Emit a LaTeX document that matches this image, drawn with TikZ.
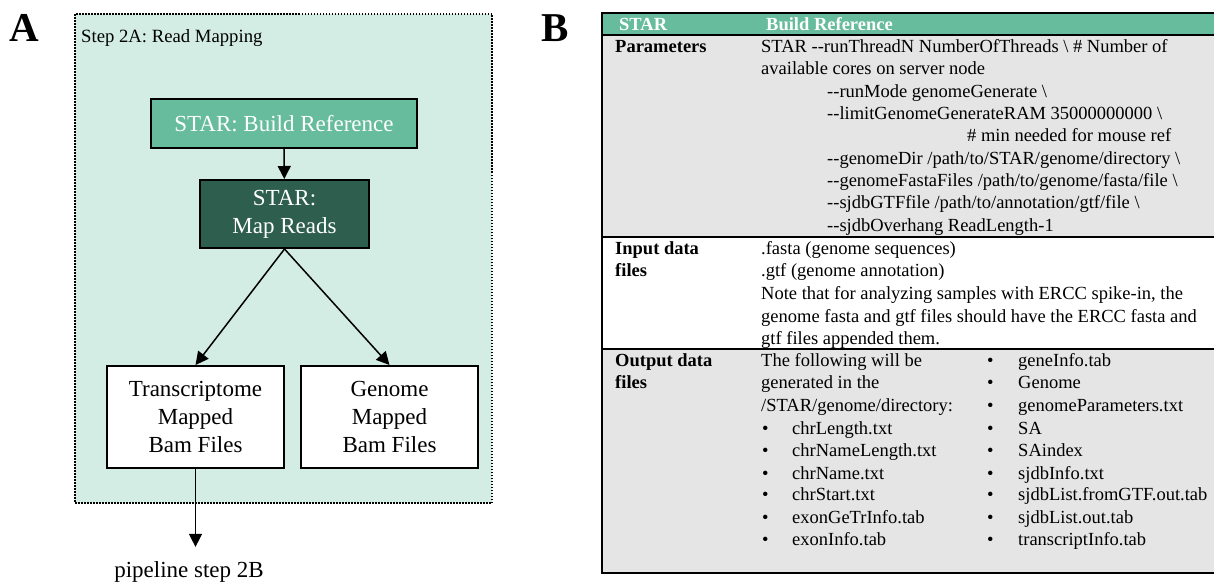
\documentclass[tikz,border=0pt]{standalone}
\usepackage{fontspec}
\setmainfont{Liberation Serif}
\usepackage{xcolor}
\usepackage{tikz}
\usetikzlibrary{positioning, arrows.meta, calc}

\definecolor{vertclair}{HTML}{66BC9C}
\definecolor{vertfonce}{HTML}{2E5E4E}
\definecolor{menthe}{HTML}{D3EDE5}
\definecolor{grisfond}{HTML}{E5E5E5}

\newcommand{\tiret}{\mbox{-}\mbox{-}}
\newcommand{\bs}{\textbackslash}
\newcommand{\corps}{\fontsize{18.5}{22}\selectfont}

\tikzset{
    boite/.style={draw, line width=2pt, align=center, inner sep=0pt, font=\fontsize{23}{28}\selectfont},
    fleche/.style={line width=1.5pt, -{Triangle[length=13pt, width=13pt]}},
    texte/.style={anchor=base west, inner sep=0pt, font=\corps},
    gras/.style={texte, font=\corps\bfseries},
    entete/.style={gras, text=white},
    lettre/.style={anchor=base west, inner sep=0pt, font=\fontsize{41}{41}\selectfont\bfseries},
    trait/.style={line width=2pt}
}

\begin{document}
\begin{tikzpicture}[x=1pt, y=-1pt]
    \useasboundingbox (0,0) rectangle (1214,581);
    \clip (0,0) rectangle (1214,581);

    % Panneau A
    \node[lettre] (lettreA) at (9,41) {A};
    \draw[line width=1.5pt, dash pattern=on 1.5pt off 1.5pt, fill=menthe] (75,14) rectangle (492,503);
    \node[texte, font=\fontsize{18.7}{22}\selectfont] (titreA) at (81,42) {Step 2A: Read Mapping};

    \node[boite, fill=vertclair, text=white, minimum width=266pt, minimum height=49pt] (build) at (284,123.5) {STAR: Build Reference};
    \node[boite, fill=vertfonce, text=white, minimum width=169pt, minimum height=68pt] (map) at (284.5,214) {STAR:\\Map Reads};
    \node[boite, fill=white, minimum width=177pt, minimum height=102pt] (trans) at (195.5,417) {Transcriptome\\Mapped\\Bam Files};
    \node[boite, fill=white, minimum width=177pt, minimum height=102pt] (geno) at (389.5,417) {Genome\\Mapped\\Bam Files};
    \node[font=\fontsize{23}{28}\selectfont, inner xsep=0pt, inner ysep=14pt] (pipe) at (189,571.5) {pipeline step 2B};

    \draw[fleche] (build) -- (map);
    \draw[fleche] (map.south) -- (trans.north);
    \draw[fleche] (map.south) -- (geno.north);
    \draw[fleche] (trans) -- (trans.south |- pipe.north);

    % Panneau B : tableau
    \node[lettre] (lettreB) at (541,41) {B};
    \fill[vertclair] (602,13) rectangle (1222,35);
    \fill[grisfond] (602,35) rectangle (1222,237);
    \fill[white] (602,237) rectangle (1222,349);
    \fill[grisfond] (602,349) rectangle (1222,573);
    \draw[trait] (1222,13) -- (602,13) -- (602,573) -- (1222,573);
    \draw[trait] (602,35) -- (1222,35);
    \draw[trait] (602,237) -- (1222,237);
    \draw[trait] (602,349) -- (1222,349);

    \node[entete] (hStar) at (619,30) {STAR};
    \node[entete] (hBuild) at (766,30) {Build Reference};

    % Parametres
    \node[gras] (lParam) at (615,52) {Parameters};
    \node[texte] (p1) at (761,52) {STAR \tiret runThreadN NumberOfThreads \bs{} \# Number of};
    \node[texte] (p2) at (761,74) {available cores on server node};
    \node[texte] (p3) at (827,97) {\tiret runMode genomeGenerate \bs};
    \node[texte] (p4) at (827,119) {\tiret limitGenomeGenerateRAM 35000000000 \bs};
    \node[texte] (p5) at (967,141) {\# min needed for mouse ref};
    \node[texte] (p6) at (827,164) {\tiret genomeDir /path/to/STAR/genome/directory \bs};
    \node[texte] (p7) at (827,186) {\tiret genomeFastaFiles /path/to/genome/fasta/file \bs};
    \node[texte] (p8) at (827,208) {\tiret sjdbGTFfile /path/to/annotation/gtf/file \bs};
    \node[texte] (p9) at (827,231) {\tiret sjdbOverhang ReadLength-1};

    % Entrees
    \node[gras, align=left] (lInput) at (615,254) {Input data};
    \node[gras] (lInput2) at (615,276) {files};
    \node[texte] (e1) at (761,254) {.fasta (genome sequences)};
    \node[texte] (e2) at (761,276) {.gtf (genome annotation)};
    \node[texte] (e3) at (761,299) {Note that for analyzing samples with ERCC spike-in, the};
    \node[texte] (e4) at (761,322) {genome fasta and gtf files should have the ERCC fasta and};
    \node[texte] (e5) at (761,344) {gtf files appended them.};

    % Sorties
    \node[gras] (lOutput) at (615,366) {Output data};
    \node[gras] (lOutput2) at (615,388) {files};
    \node[texte] (s1) at (761,366) {The following will be};
    \node[texte] (s2) at (761,388) {generated in the};
    \node[texte] (s3) at (761,411) {/STAR/genome/directory:};
    \node[texte] (b4) at (762,434) {\textbullet};
    \node[texte] (s4) at (792,434) {chrLength.txt};
    \node[texte] (b5) at (762,456) {\textbullet};
    \node[texte] (s5) at (792,456) {chrNameLength.txt};
    \node[texte] (b6) at (762,479) {\textbullet};
    \node[texte] (s6) at (792,479) {chrName.txt};
    \node[texte] (b7) at (762,500) {\textbullet};
    \node[texte] (s7) at (792,500) {chrStart.txt};
    \node[texte] (b8) at (762,523) {\textbullet};
    \node[texte] (s8) at (792,523) {exonGeTrInfo.tab};
    \node[texte] (b9) at (762,545) {\textbullet};
    \node[texte] (s9) at (792,545) {exonInfo.tab};

    \node[texte] (c1) at (987,366) {\textbullet};
    \node[texte] (d1) at (1018,366) {geneInfo.tab};
    \node[texte] (c2) at (987,388) {\textbullet};
    \node[texte] (d2) at (1018,388) {Genome};
    \node[texte] (c3) at (987,411) {\textbullet};
    \node[texte] (d3) at (1018,411) {genomeParameters.txt};
    \node[texte] (c4) at (987,434) {\textbullet};
    \node[texte] (d4) at (1018,434) {SA};
    \node[texte] (c5) at (987,456) {\textbullet};
    \node[texte] (d5) at (1018,456) {SAindex};
    \node[texte] (c6) at (987,479) {\textbullet};
    \node[texte] (d6) at (1018,479) {sjdbInfo.txt};
    \node[texte] (c7) at (987,500) {\textbullet};
    \node[texte] (d7) at (1018,500) {sjdbList.fromGTF.out.tab};
    \node[texte] (c8) at (987,523) {\textbullet};
    \node[texte] (d8) at (1018,523) {sjdbList.out.tab};
    \node[texte] (c9) at (987,545) {\textbullet};
    \node[texte] (d9) at (1018,545) {transcriptInfo.tab};
\end{tikzpicture}
\end{document}
